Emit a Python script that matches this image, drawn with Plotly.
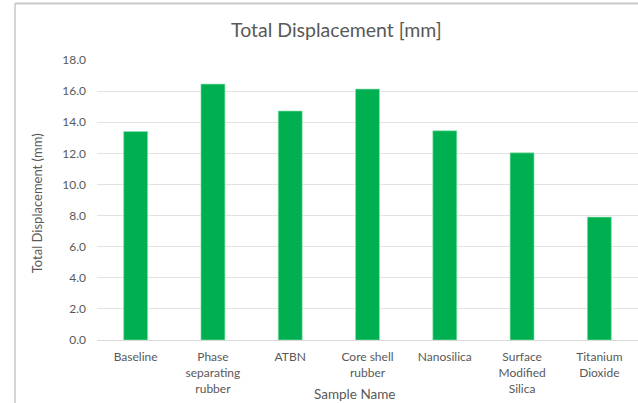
import plotly.graph_objects as go

# Sample categories and measured total displacement (mm)
samples = [
    "Baseline",
    "Phase<br>separating<br>rubber",
    "ATBN",
    "Core shell<br>rubber",
    "Nanosilica",
    "Surface<br>Modified<br>Silica",
    "Titanium<br>Dioxide",
]
displacement = [13.4, 16.45, 14.72, 16.13, 13.45, 12.03, 7.9]
y_ticks = [0, 2, 4, 6, 8, 10, 12, 14, 16, 18]
y_tick_text = [f"{v:.1f}" for v in y_ticks]

W, H = 638, 403
L, R, T, B = 97, 0, 59.5, 63
plot_w = W - L - R
plot_h = H - T - B


def px(x):
    return (x - L) / plot_w


def py(y):
    return (H - B - y) / plot_h


FONT = "Lato"
GREY = "#595959"

fig = go.Figure(
    go.Bar(
        x=samples,
        y=displacement,
        marker=dict(color="#00B050", line=dict(color="#8FE3B0", width=0.6)),
    )
)

fig.update_layout(
    width=W,
    height=H,
    margin=dict(l=L, r=R, t=T, b=B),
    paper_bgcolor="white",
    plot_bgcolor="white",
    bargap=0.69,
    showlegend=False,
    font=dict(family=FONT, color=GREY, size=12),
    xaxis=dict(
        showgrid=False,
        showline=True,
        linecolor="#D9D9D9",
        linewidth=1,
        ticks="",
        ticklabelstandoff=6,
        tickfont=dict(size=12, color=GREY),
    ),
    yaxis=dict(
        range=[0, 18],
        tickvals=y_ticks,
        ticktext=y_tick_text,
        showgrid=True,
        gridcolor="#E3E3E3",
        gridwidth=1,
        zeroline=False,
        showline=False,
        ticks="",
        ticklabelstandoff=10,
        tickfont=dict(size=12, color=GREY),
    ),
    annotations=[
        dict(
            text="Total Displacement [mm]",
            x=px(336), y=py(29), xref="paper", yref="paper",
            showarrow=False, xanchor="center", yanchor="middle",
            font=dict(size=19.5, color=GREY, family=FONT),
        ),
        dict(
            text="Sample Name",
            x=px(354), y=py(394), xref="paper", yref="paper",
            showarrow=False, xanchor="center", yanchor="middle",
            font=dict(size=13.5, color=GREY, family=FONT),
        ),
        dict(
            text="Total Displacement (mm)",
            x=px(37), y=py(203), xref="paper", yref="paper",
            showarrow=False, xanchor="center", yanchor="middle", textangle=-90,
            font=dict(size=13, color=GREY, family=FONT),
        ),
    ],
    shapes=[
        # outer chart frame (left and top edges)
        dict(type="line", xref="paper", yref="paper",
             x0=px(15), x1=px(15), y0=py(3), y1=py(403),
             line=dict(color="#C8C8C8", width=1.5)),
        dict(type="line", xref="paper", yref="paper",
             x0=px(15), x1=px(638), y0=py(3), y1=py(3),
             line=dict(color="#C8C8C8", width=2)),
    ],
)

fig.write_html("out.html")
